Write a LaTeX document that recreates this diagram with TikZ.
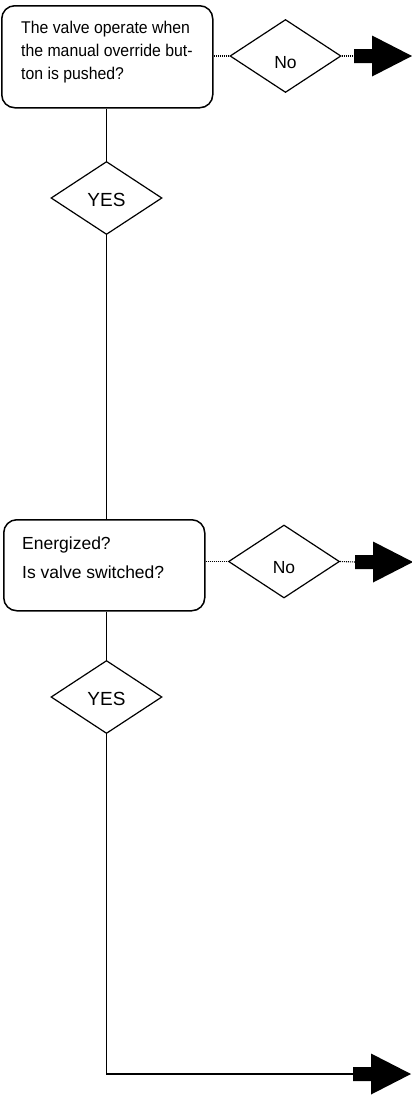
\documentclass[tikz,border=0pt]{standalone}
\usepackage{fontspec}
\setmainfont{Liberation Sans}
\newfontfamily\condfont[FakeStretch=0.93]{Liberation Sans}
\usetikzlibrary{shapes.geometric}
\begin{document}
\begin{tikzpicture}[x=1pt,y=-1pt,
  qbox/.style={draw, line width=1.5pt, rounded corners=13pt, inner sep=0pt, anchor=north west},
  dec/.style={diamond, draw, line width=1.2pt, minimum width=111pt, minimum height=73pt, aspect=1.52, inner sep=0pt},
  notext/.style={font=\fontsize{17.5}{20}\selectfont, text height=24.5pt, text depth=0pt},
  yestext/.style={font=\fontsize{19}{22}\selectfont, text height=17.6pt, text depth=0pt},
  qline/.style={anchor=base west, inner sep=0pt},
  conn/.style={line width=1.2pt},
  dotline/.style={line width=1.1pt, dash pattern=on 1pt off 1pt},
  blockarrow/.pic={\fill (0,7) -- (18,7) -- (18,20.5) -- (58,0) -- (18,-20.5) -- (18,-7) -- (0,-7) -- cycle;}
]
\useasboundingbox (0,0) rectangle (412,1111);

% first question
\node[qbox, minimum width=211pt, minimum height=102pt] (box1) at (1,5) {};
\node[qline, font=\condfont\fontsize{17}{20}\selectfont] (q1a) at (21,33) {The valve operate when};
\node[qline, font=\condfont\fontsize{17}{20}\selectfont] (q1b) at (21,56) {the manual override but-};
\node[qline, font=\condfont\fontsize{17}{20}\selectfont] (q1c) at (21,79) {ton is pushed?};

\node[dec, notext] (no1) at (285.5,56) {No};
\coordinate (e1) at (354,56);
\node[dec, yestext] (yes1) at (106.5,198) {YES};

% second question
\node[qbox, minimum width=201pt, minimum height=91pt] (box2) at (3,519) {};
\node[qline, font=\fontsize{17.5}{20}\selectfont] (q2a) at (22,549) {Energized?};
\node[qline, font=\fontsize{17.5}{20}\selectfont] (q2b) at (22,578) {Is valve switched?};

\node[dec, notext] (no2) at (284,561.5) {No};
\coordinate (e2) at (355,562);
\node[dec, yestext] (yes2) at (106.5,697) {YES};
\coordinate (e3) at (353,1074);

% connectors
\draw[conn] (box1.south -| yes1) -- (yes1.north);
\draw[conn] (yes1.south) -- (yes1.south |- box2.north);
\draw[conn] (box2.south -| yes2) -- (yes2.north);
\draw[conn] (yes2.south) |- (e3);

\draw[dotline] (no1.west -| box1.east) -- (no1.west);
\draw[dotline] (no1.east) -- (e1);
\draw[dotline] (no2.west -| box2.east) -- (no2.west);
\draw[dotline] (no2.east) -- (e2);

\pic at (e1) {blockarrow};
\pic at (e2) {blockarrow};
\pic at (e3) {blockarrow};
\end{tikzpicture}
\end{document}
